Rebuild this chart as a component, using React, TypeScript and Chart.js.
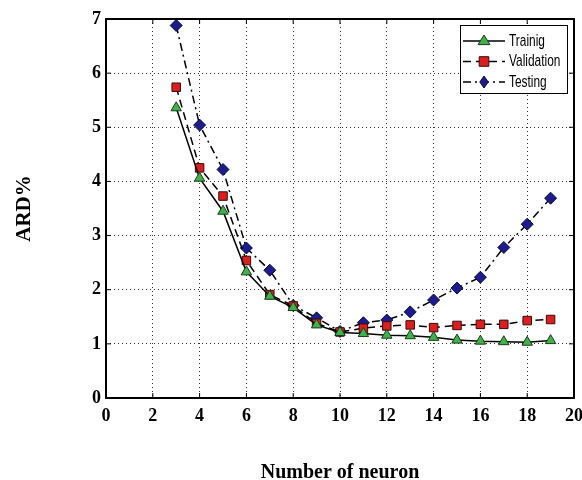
import React, { useEffect, useRef } from "react";
import { Chart, registerables } from "chart.js";

Chart.register(...registerables);

const neurons = [3, 4, 5, 6, 7, 8, 9, 10, 11, 12, 13, 14, 15, 16, 17, 18, 19];
const training = [5.36, 4.06, 3.45, 2.33, 1.88, 1.67, 1.35, 1.21, 1.19, 1.16, 1.15, 1.12, 1.07, 1.05, 1.04, 1.03, 1.06];
const validation = [5.74, 4.25, 3.73, 2.54, 1.91, 1.7, 1.38, 1.22, 1.29, 1.33, 1.35, 1.3, 1.34, 1.36, 1.36, 1.43, 1.45];
const testing = [6.88, 5.04, 4.22, 2.77, 2.36, 1.71, 1.48, 1.23, 1.39, 1.44, 1.59, 1.81, 2.03, 2.23, 2.78, 3.21, 3.69];
const seriesLabels = ["Trainig", "Validation", "Testing"];
const xTitle = "Number of neuron";
const yTitle = "ARD%";

const serif = "'Liberation Serif', 'Times New Roman', serif";

const framePlugin = {
  id: "frame",
  afterDraw(chart: any) {
    const { ctx, chartArea: a, scales } = chart;
    ctx.save();
    ctx.strokeStyle = "#000";
    ctx.lineWidth = 1;
    const tl = 5;
    scales.x.ticks.forEach((t: any) => {
      const px = scales.x.getPixelForValue(t.value);
      ctx.beginPath();
      ctx.moveTo(px, a.bottom);
      ctx.lineTo(px, a.bottom - tl);
      ctx.moveTo(px, a.top);
      ctx.lineTo(px, a.top + tl);
      ctx.stroke();
    });
    scales.y.ticks.forEach((t: any) => {
      const py = scales.y.getPixelForValue(t.value);
      ctx.beginPath();
      ctx.moveTo(a.left, py);
      ctx.lineTo(a.left + tl, py);
      ctx.moveTo(a.right, py);
      ctx.lineTo(a.right - tl, py);
      ctx.stroke();
    });
    ctx.lineWidth = 2;
    ctx.strokeRect(a.left, a.top, a.right - a.left, a.bottom - a.top);

    // legend
    const bw = 107;
    const bh = 68;
    const bx = a.right - 7 - bw;
    const by = a.top + 6;
    ctx.fillStyle = "#fff";
    ctx.fillRect(bx, by, bw, bh);
    ctx.lineWidth = 1;
    ctx.strokeStyle = "#000";
    ctx.strokeRect(bx + 0.5, by + 0.5, bw, bh);
    const meta = chart.data.datasets;
    meta.forEach((ds: any, i: number) => {
      const cy = by + 16 + i * 20.5;
      const x0 = bx + 3;
      const x1 = bx + 45;
      ctx.save();
      ctx.strokeStyle = "#000";
      ctx.lineWidth = ds.borderWidth;
      ctx.setLineDash(ds.borderDash || []);
      ctx.beginPath();
      ctx.moveTo(x0, cy);
      ctx.lineTo(x1, cy);
      ctx.stroke();
      ctx.restore();
      const cx = (x0 + x1) / 2;
      ctx.save();
      ctx.fillStyle = ds.pointBackgroundColor;
      ctx.strokeStyle = ds.pointBorderColor;
      ctx.lineWidth = 1;
      const r = ds.pointRadius;
      ctx.beginPath();
      if (ds.pointStyle === "triangle") {
        ctx.moveTo(cx, cy - r);
        ctx.lineTo(cx + r, cy + r * 0.6);
        ctx.lineTo(cx - r, cy + r * 0.6);
        ctx.closePath();
      } else if (ds.pointStyle === "rect") {
        ctx.rect(cx - r * 0.8, cy - r * 0.8, r * 1.6, r * 1.6);
      } else {
        ctx.moveTo(cx, cy - r);
        ctx.lineTo(cx + r * 0.7, cy);
        ctx.lineTo(cx, cy + r);
        ctx.lineTo(cx - r * 0.7, cy);
        ctx.closePath();
      }
      ctx.fill();
      ctx.stroke();
      ctx.restore();
      ctx.save();
      ctx.fillStyle = "#000";
      ctx.font = "17px 'Liberation Sans', Arial, sans-serif";
      ctx.textBaseline = "middle";
      ctx.translate(x1 + 4, cy);
      ctx.scale(0.7, 1);
      ctx.fillText(ds.label, 0, 0);
      ctx.restore();
    });
    ctx.restore();
  },
};

export default function App() {
  const ref = useRef<HTMLCanvasElement | null>(null);
  useEffect(() => {
    if (!ref.current) return;
    const mk = (arr: number[]) => neurons.map((n, i) => ({ x: n, y: arr[i] }));
    const chart = new Chart(ref.current, {
      type: "line",
      data: {
        datasets: [
          {
            label: seriesLabels[0],
            data: mk(training),
            borderColor: "#000",
            borderWidth: 1.5,
            borderDash: [],
            pointStyle: "triangle",
            pointRadius: 6,
            pointBackgroundColor: "#3fb34a",
            pointBorderColor: "#1a3a1a",
            pointBorderWidth: 1,
            tension: 0,
          },
          {
            label: seriesLabels[1],
            data: mk(validation),
            borderColor: "#000",
            borderWidth: 1.5,
            borderDash: [8, 5],
            pointStyle: "rect",
            pointRadius: 6,
            pointBackgroundColor: "#dd1e1e",
            pointBorderColor: "#3a0a0a",
            pointBorderWidth: 1,
            tension: 0,
          },
          {
            label: seriesLabels[2],
            data: mk(testing),
            borderColor: "#000",
            borderWidth: 1.5,
            borderDash: [8, 4, 2, 4],
            pointStyle: "rectRot",
            pointRadius: 6,
            pointBackgroundColor: "#1c1c8c",
            pointBorderColor: "#0a0a3a",
            pointBorderWidth: 1,
            tension: 0,
          },
        ] as any,
      },
      options: {
        animation: false,
        responsive: true,
        maintainAspectRatio: false,
        layout: { padding: { top: 19, right: 8, left: 0, bottom: 0 } },
        plugins: {
          legend: { display: false },
          tooltip: { enabled: false },
        },
        scales: {
          x: {
            type: "linear",
            min: 0,
            max: 20,
            ticks: {
              stepSize: 2,
              padding: 8,
              color: "#000",
              font: { family: serif, weight: "bold", size: 18 },
            },
            grid: { color: "#333", lineWidth: 1, drawTicks: false },
            border: { display: false, dash: [1, 3] },
            title: {
              display: true,
              text: xTitle,
              color: "#000",
              font: { family: serif, weight: "bold", size: 20 },
              padding: { top: 0, bottom: -5 },
            },
            afterFit(scale: any) {
              scale.height = 82;
              scale.paddingLeft = 0;
              scale.paddingRight = 0;
            },
          },
          y: {
            type: "linear",
            min: 0,
            max: 7,
            ticks: {
              stepSize: 1,
              padding: 5,
              color: "#000",
              font: { family: serif, weight: "bold", size: 18 },
            },
            grid: { color: "#333", lineWidth: 1, drawTicks: false },
            border: { display: false, dash: [1, 3] },
            title: {
              display: true,
              text: yTitle,
              color: "#000",
              font: { family: serif, weight: "bold", size: 21 },
              padding: { top: 12, bottom: 0 },
            },
            afterFit(scale: any) {
              scale.width = 106;
              scale.paddingTop = 0;
              scale.paddingBottom = 0;
            },
          },
        },
      } as any,
      plugins: [framePlugin],
    });
    return () => chart.destroy();
  }, []);
  return (
    <div style={{ position: "absolute", left: 0, top: 0, width: 582, height: 480, background: "#fff" }}>
      <canvas ref={ref} />
    </div>
  );
}
